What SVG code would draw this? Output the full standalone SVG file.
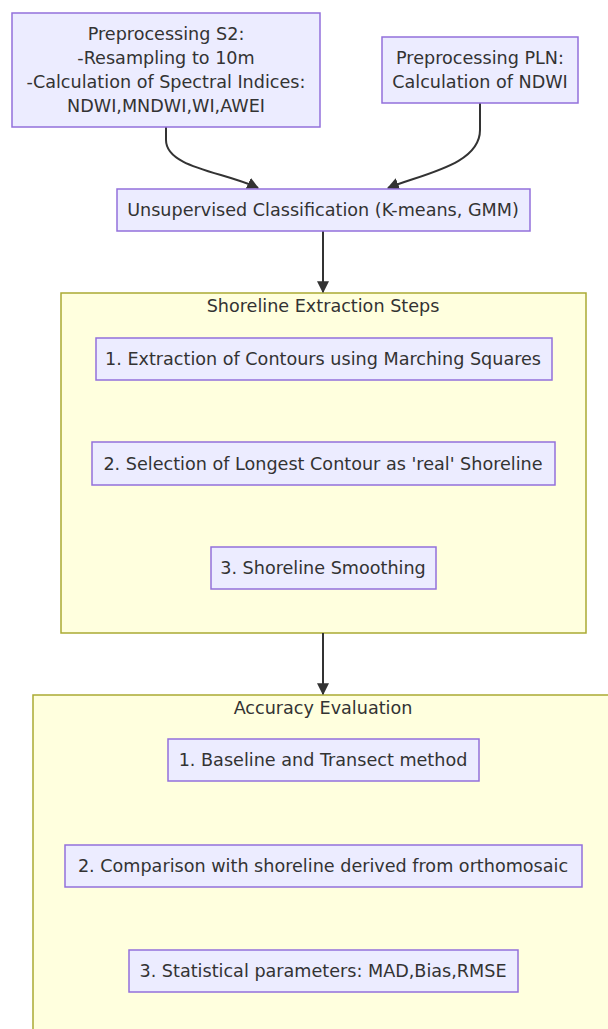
<svg xmlns="http://www.w3.org/2000/svg" width="608" height="1029" viewBox="0 0 608 1029">
<style>
.node rect{fill:#ECECFF;stroke:#9370DB;stroke-width:1.5}
.cluster rect{fill:#ffffde;stroke:#aaaa33;stroke-width:1.5}
text{font-family:"DejaVu Sans","Liberation Sans",sans-serif;font-size:17.6px;fill:#333;text-anchor:middle}
.edge{fill:none;stroke:#333;stroke-width:2}
</style>
<defs>
<marker id="arr" viewBox="0 0 10 10" refX="9" refY="5" markerWidth="12" markerHeight="12" markerUnits="userSpaceOnUse" orient="auto">
<path d="M0,0 L10,5 L0,10 z" fill="#333"/>
</marker>
</defs>
<rect width="608" height="1029" fill="#fff"/>
<g id="cluster-shoreline" class="cluster">
<rect x="61" y="293" width="525" height="340"/>
<text x="323" y="312">Shoreline Extraction Steps</text>
</g>
<g id="cluster-accuracy" class="cluster">
<rect x="33" y="695" width="590" height="350"/>
<text x="323" y="714">Accuracy Evaluation</text>
</g>
<g id="connectors">
<path class="edge" d="M166,127 L166,140 C166,168 225,172 258,188" marker-end="url(#arr)"/>
<path class="edge" d="M480,103 L480,130 C480,165 422,174 388,188" marker-end="url(#arr)"/>
<path class="edge" d="M323,231 L323,292" marker-end="url(#arr)"/>
<path class="edge" d="M323,633 L323,694" marker-end="url(#arr)"/>
</g>
<g id="node-s2" class="node">
<rect x="12" y="13" width="308" height="114"/>
<text x="166" y="40">Preprocessing S2:</text>
<text x="166" y="64">-Resampling to 10m</text>
<text x="166" y="88">-Calculation of Spectral Indices:</text>
<text x="166" y="112">NDWI,MNDWI,WI,AWEI</text>
</g>
<g id="node-pln" class="node">
<rect x="382" y="37" width="196" height="66"/>
<text x="480" y="64">Preprocessing PLN:</text>
<text x="480" y="88">Calculation of NDWI</text>
</g>
<g id="node-classif" class="node">
<rect x="117" y="189" width="413" height="42"/>
<text x="323" y="216">Unsupervised Classification (K-means, GMM)</text>
</g>
<g id="node-se1" class="node">
<rect x="96" y="338" width="456" height="42"/>
<text x="323" y="365">1. Extraction of Contours using Marching Squares</text>
</g>
<g id="node-se2" class="node">
<rect x="92" y="442" width="463" height="43"/>
<text x="323" y="470">2. Selection of Longest Contour as 'real' Shoreline</text>
</g>
<g id="node-se3" class="node">
<rect x="211" y="547" width="225" height="42"/>
<text x="323" y="574">3. Shoreline Smoothing</text>
</g>
<g id="node-ae1" class="node">
<rect x="168" y="739" width="311" height="42"/>
<text x="323" y="766">1. Baseline and Transect method</text>
</g>
<g id="node-ae2" class="node">
<rect x="65" y="845" width="517" height="42"/>
<text x="323" y="872">2. Comparison with shoreline derived from orthomosaic</text>
</g>
<g id="node-ae3" class="node">
<rect x="129" y="950" width="389" height="42"/>
<text x="323" y="977">3. Statistical parameters: MAD,Bias,RMSE</text>
</g>
</svg>
